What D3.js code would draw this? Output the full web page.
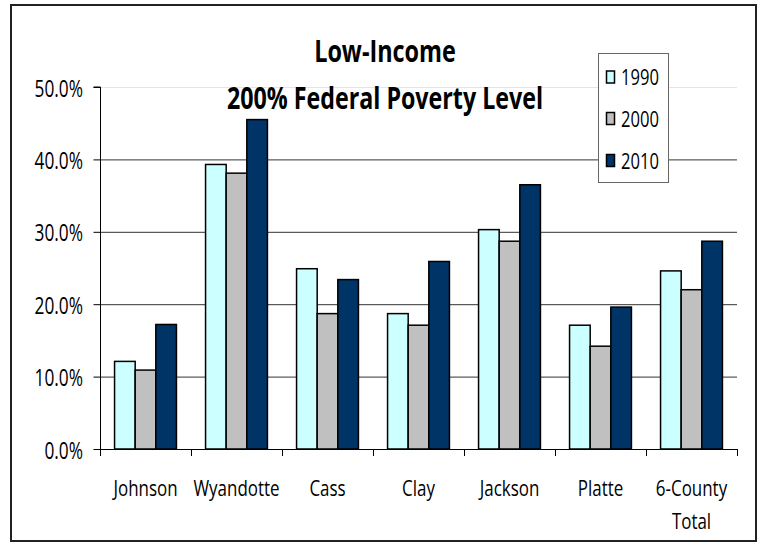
<!DOCTYPE html>
<html><head><meta charset="utf-8">
<script src="https://cdn.jsdelivr.net/npm/d3@7"></script>
<style>
body{margin:0;background:#fff;}
text{font-family:"Open Sans",sans-serif;fill:#000;}
</style></head>
<body><svg id="c" width="765" height="544"></svg>
<script>
const categories = ["Johnson","Wyandotte","Cass","Clay","Jackson","Platte","6-County Total"];
const series = ["1990","2000","2010"];
const values1990 = [12.1, 39.3, 24.9, 18.7, 30.3, 17.1, 24.6];
const values2000 = [10.9, 38.1, 18.7, 17.1, 28.7, 14.2, 22.0];
const values2010 = [17.2, 45.5, 23.4, 25.9, 36.5, 19.6, 28.7];
const colors = ["#CCFFFF","#C0C0C0","#003366"];
const yTicks = [0,10,20,30,40,50];
const titleLines = ["Low-Income","200% Federal Poverty Level"];

const allValues = [values1990, values2000, values2010];
const svg = d3.select("#c");
const m = {l:100, r:737, t:87, b:449};

// narrow-text helper (reference font is condensed)
function ntext(sel, x, y, str, size, sx, anchor, weight){
  return sel.append("text")
    .attr("transform",`translate(${x},${y}) scale(${sx},1)`)
    .attr("text-anchor",anchor||"start")
    .attr("font-size",size)
    .attr("font-weight",weight||"normal")
    .text(str);
}

svg.append("rect").attr("x",11).attr("y",5).attr("width",745).attr("height",536)
  .attr("fill","#fff").attr("stroke","#222").attr("stroke-width",2);

const x = d3.scaleBand().domain(categories).range([m.l, m.r]).paddingInner(0.32).paddingOuter(0.16);
const x1 = d3.scaleBand().domain(series).range([0, x.bandwidth()]);
const y = d3.scaleLinear().domain([0,50]).range([m.b, m.t]);

// gridlines
svg.append("g").selectAll("line").data(yTicks.filter(d=>d>0)).join("line")
  .attr("x1",m.l).attr("x2",m.r).attr("y1",d=>y(d)+0.5).attr("y2",d=>y(d)+0.5)
  .attr("stroke",d=>d===50?"#e4e4e4":"#333").attr("stroke-width",1);

// bars
const g = svg.append("g");
categories.forEach((c,i)=>{
  series.forEach((s,j)=>{
    const v = allValues[j][i];
    g.append("rect").attr("x",x(c)+x1(s)).attr("y",y(v))
      .attr("width",x1.bandwidth()).attr("height",y(0)-y(v))
      .attr("fill",colors[j]).attr("stroke","#000").attr("stroke-width",1.5);
  });
});

// y axis
const yAxis = d3.axisLeft(y).tickValues(yTicks).tickFormat("").tickSize(7);
const ya = svg.append("g").attr("transform",`translate(${m.l+0.5},0)`).call(yAxis);
ya.selectAll("line,path").attr("stroke","#000");
ya.select(".domain").attr("d",`M-7,${m.t}H0V${m.b}`);
const yl = svg.append("g");
yTicks.forEach(t=>ntext(yl, 83, y(t)+9.5, d3.format(".1f")(t)+"%", 24, 0.72, "end"));

// x axis
const edges = categories.map(c=>x(c)-x.step()*x.paddingInner()/2).concat([m.r]);
svg.append("line").attr("x1",m.l).attr("x2",m.r).attr("y1",m.b+0.5).attr("y2",m.b+0.5).attr("stroke","#000");
svg.append("g").selectAll("line").data(edges).join("line")
  .attr("x1",d=>Math.round(d)+0.5).attr("x2",d=>Math.round(d)+0.5).attr("y1",m.b).attr("y2",m.b+7).attr("stroke","#000");
const xl = svg.append("g");
categories.forEach(c=>{
  const words = c==="6-County Total" ? ["6-County","Total"] : [c];
  words.forEach((w,k)=>ntext(xl, x(c)+x.bandwidth()/2, 496 + k*33, w, 22, 0.77, "middle"));
});

// title
ntext(svg, 385, 62, titleLines[0], 30, 0.78, "middle", "bold");
ntext(svg, 385, 109, titleLines[1], 30, 0.775, "middle", "bold");

// legend
svg.append("rect").attr("x",598.5).attr("y",53.5).attr("width",70).attr("height",129).attr("fill","#fff").attr("stroke","#666");
const legY = [77, 118.5, 160.5];
series.forEach((s,j)=>{
  const cy = legY[j];
  svg.append("rect").attr("x",606.5).attr("y",cy-6).attr("width",8).attr("height",12).attr("fill",colors[j]).attr("stroke","#000").attr("stroke-width",1.5);
  ntext(svg, 621, cy+8, s, 21, 0.79, "start");
});
</script></body></html>
